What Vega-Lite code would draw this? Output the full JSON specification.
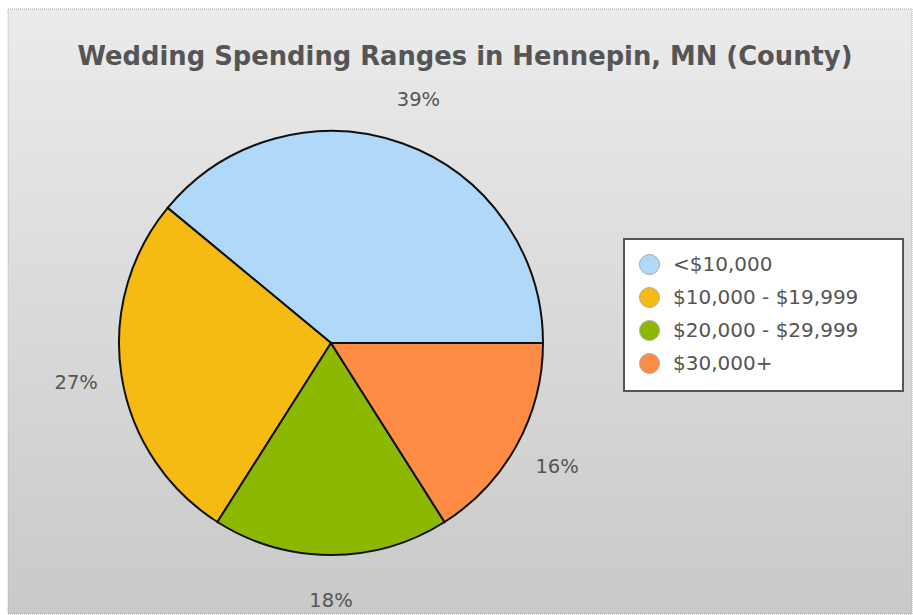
{
  "$schema": "https://vega.github.io/schema/vega-lite/v6.json",
  "width": 913,
  "height": 615,
  "autosize": {"type": "fit", "contains": "padding"},
  "padding": {"left": 7, "top": 8, "right": 0, "bottom": 0},
  "background": "white",
  "title": {
    "text": "Wedding Spending Ranges in Hennepin, MN (County)",
    "font": "DejaVu Sans",
    "fontSize": 25.8,
    "fontWeight": "bold",
    "color": "#555555",
    "anchor": "middle",
    "frame": "group",
    "offset": -62,
    "dx": 5
  },
  "data": {
    "values": [
      {"range": "<$10,000", "pct": 39, "ord": 4, "label": "39%"},
      {"range": "$10,000 - $19,999", "pct": 27, "ord": 3, "label": "27%"},
      {"range": "$20,000 - $29,999", "pct": 18, "ord": 2, "label": "18%"},
      {"range": "$30,000+", "pct": 16, "ord": 1, "label": "16%"}
    ]
  },
  "layer": [
    {
      "data": {"values": [{"bg": 1}]},
      "mark": {
        "type": "rect",
        "fill": {
          "gradient": "linear",
          "x1": 0, "y1": 0, "x2": 0, "y2": 1,
          "stops": [
            {"offset": 0, "color": "#ebebeb"},
            {"offset": 1, "color": "#c9c9c9"}
          ]
        },
        "stroke": "#aaaaaa",
        "strokeDash": [1, 1]
      },
      "encoding": {}
    },
    {
      "mark": {"type": "arc", "radius": 212, "x": 323, "y": 334, "stroke": "#111111", "strokeWidth": 2},
      "encoding": {
        "theta": {"field": "pct", "type": "quantitative", "stack": true, "scale": {"range": [1.5708, 7.854]}},
        "order": {"field": "ord", "type": "quantitative", "sort": "ascending"},
        "color": {
          "field": "range",
          "type": "nominal",
          "scale": {
            "domain": ["<$10,000", "$10,000 - $19,999", "$20,000 - $29,999", "$30,000+"],
            "range": ["#b0d8f8", "#f5bb12", "#8cb800", "#ff8c45"]
          },
          "legend": {
            "title": null,
            "orient": "none",
            "legendX": 616,
            "legendY": 230,
            "fillColor": "white",
            "strokeColor": "#555555",
            "padding": 15,
            "symbolType": "circle",
            "symbolSize": 400,
            "symbolOpacity": 1,
            "symbolStrokeColor": "#aaaaaa",
            "symbolStrokeWidth": 1,
            "labelFont": "DejaVu Sans",
            "labelFontSize": 20,
            "labelColor": "#555555",
            "labelLimit": 400,
            "labelOffset": 13,
            "rowPadding": 8,
            "labelExpr": "datum.label + '\u2800\u2800'"
          }
        }
      }
    },
    {
      "mark": {"type": "text", "radius": 258, "x": 323, "y": 334, "font": "DejaVu Sans", "fontSize": 19.5, "color": "#555555", "align": "center", "baseline": "middle"},
      "encoding": {
        "theta": {"field": "pct", "type": "quantitative", "stack": true},
        "order": {"field": "ord", "type": "quantitative", "sort": "ascending"},
        "text": {"field": "label", "type": "nominal"}
      }
    }
  ],
  "config": {
    "view": {"stroke": null},
    "legend": {"strokeWidth": 2}
  }
}
